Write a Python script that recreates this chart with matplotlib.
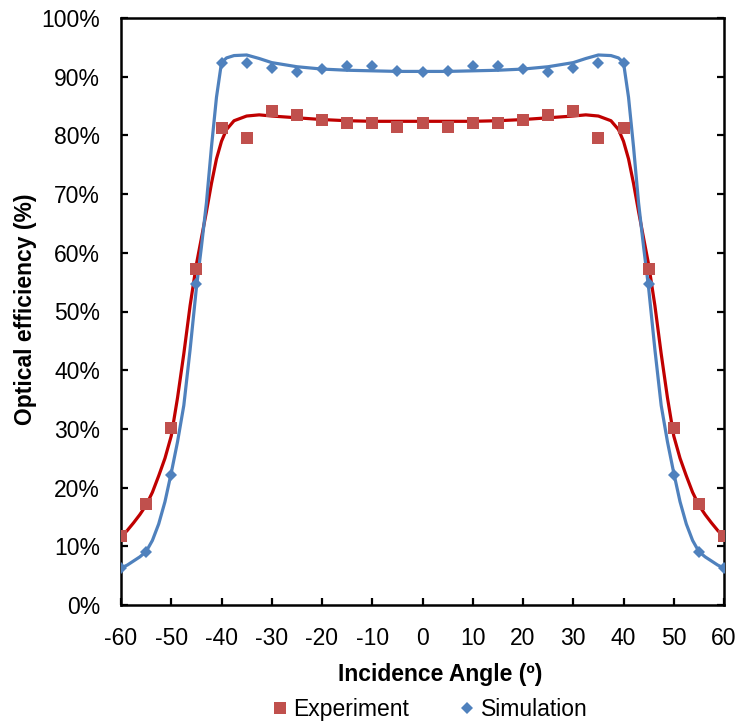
import matplotlib
matplotlib.use("Agg")
import matplotlib.pyplot as plt
from matplotlib.ticker import PercentFormatter
from matplotlib.lines import Line2D

plt.rcParams['font.family'] = ['Liberation Sans', 'DejaVu Sans']
plt.rcParams['axes.unicode_minus'] = False

# measured points
angles = [-60, -55, -50, -45, -40, -35, -30, -25, -20, -15, -10, -5, 0,
          5, 10, 15, 20, 25, 30, 35, 40, 45, 50, 55, 60]
experiment = [11.7, 17.2, 30.2, 57.2, 81.3, 79.5, 84.2, 83.5, 82.7, 82.1, 82.1, 81.4, 82.1,
              81.4, 82.1, 82.1, 82.7, 83.5, 84.2, 79.5, 81.3, 57.2, 30.2, 17.2, 11.7]
simulation = [6.3, 9.0, 22.1, 54.7, 92.3, 92.3, 91.4, 90.8, 91.3, 91.8, 91.8, 91.0, 90.8,
              91.0, 91.8, 91.8, 91.3, 90.8, 91.4, 92.3, 92.3, 54.7, 22.1, 9.0, 6.3]

# fitted curves
curve_x = [-60, -58.75, -57.5, -56.25, -55, -53.75, -52.5, -51.25, -50, -48.75, -47.5, -46.25,
           -45, -44, -43, -42, -41, -40, -39, -37.5, -35, -32.5, -30, -25, -20, -15, -10, -5, 0,
           5, 10, 15, 20, 25, 30, 32.5, 35, 37.5, 39, 40, 41, 42, 43, 44, 45,
           46.25, 47.5, 48.75, 50, 51.25, 52.5, 53.75, 55, 56.25, 57.5, 58.75, 60]
exp_curve = [11.6, 12.7, 14.0, 15.4, 17.0, 19.2, 22.0, 25.0, 28.8, 35.3, 42.8, 51.0,
             58.0, 62.5, 67.0, 71.8, 76.0, 79.0, 81.0, 82.5, 83.3, 83.5, 83.3, 83.0, 82.7, 82.5,
             82.4, 82.4, 82.4,
             82.4, 82.4, 82.5, 82.7, 83.0, 83.3, 83.5, 83.3, 82.5, 81.0, 79.0, 76.0, 71.8, 67.0,
             62.5, 58.0,
             51.0, 42.8, 35.3, 28.8, 25.0, 22.0, 19.2, 17.0, 15.4, 14.0, 12.7, 11.6]
sim_curve = [6.3, 6.8, 7.5, 8.2, 9.1, 11.0, 13.8, 17.6, 22.5, 27.8, 34.0, 43.5,
             54.0, 61.0, 68.5, 78.0, 86.5, 92.4, 93.2, 93.6, 93.7, 93.1, 92.4, 91.7, 91.3, 91.1,
             91.0, 90.9, 90.9,
             90.9, 91.0, 91.1, 91.3, 91.7, 92.4, 93.1, 93.7, 93.6, 93.2, 92.4, 86.5, 78.0, 68.5,
             61.0, 54.0,
             43.5, 34.0, 27.8, 22.5, 17.6, 13.8, 11.0, 9.1, 8.2, 7.5, 6.8, 6.3]

red_line = '#C00000'
red_mark = '#C0504D'
blue = '#4F81BD'
fs = 16.5

fig = plt.figure(figsize=(7.39, 7.24), dpi=100)
ax = fig.add_axes([121/739, 1-605/724, 603/739, 587/724])

ax.plot(curve_x, exp_curve, color=red_line, lw=2.3, zorder=2)
ax.plot(curve_x, sim_curve, color=blue, lw=2.3, zorder=2)
ax.plot(angles, experiment, 's', color=red_mark, ms=8.6, mew=0, zorder=3)
ax.plot(angles, simulation, 'D', color=blue, ms=6.2, mew=0, zorder=4)

ax.set_xlim(-60, 60)
ax.set_ylim(0, 100)
ax.set_xticks(range(-60, 61, 10))
ax.set_yticks(range(0, 101, 10))
ax.yaxis.set_major_formatter(PercentFormatter(decimals=0))

for s in ax.spines.values():
    s.set_linewidth(1.8)
ax.tick_params(axis='both', direction='in', length=5, width=1.6, labelsize=fs)
ax.tick_params(axis='x', pad=16)
ax.tick_params(axis='y', pad=15, right=True)

ax.set_xlabel('Incidence Angle (º)', fontsize=fs, fontweight='bold', va='center')
ax.xaxis.set_label_coords(0.53, -0.118)
ax.set_ylabel('Optical efficiency (%)', fontsize=fs, fontweight='bold', va='center')
ax.yaxis.set_label_coords(-0.159, 0.504)

handles = [Line2D([], [], ls='none', marker='s', color=red_mark, ms=8, mew=0),
           Line2D([], [], ls='none', marker='D', color=blue, ms=6, mew=0)]
fig.legend(handles, ['Experiment', 'Simulation'], loc='center', bbox_to_anchor=(0.582, 0.02),
           ncol=2, frameon=False, fontsize=fs, handlelength=0.6, handletextpad=0.3,
           columnspacing=2.2)

fig.savefig('out.png', dpi=100)
